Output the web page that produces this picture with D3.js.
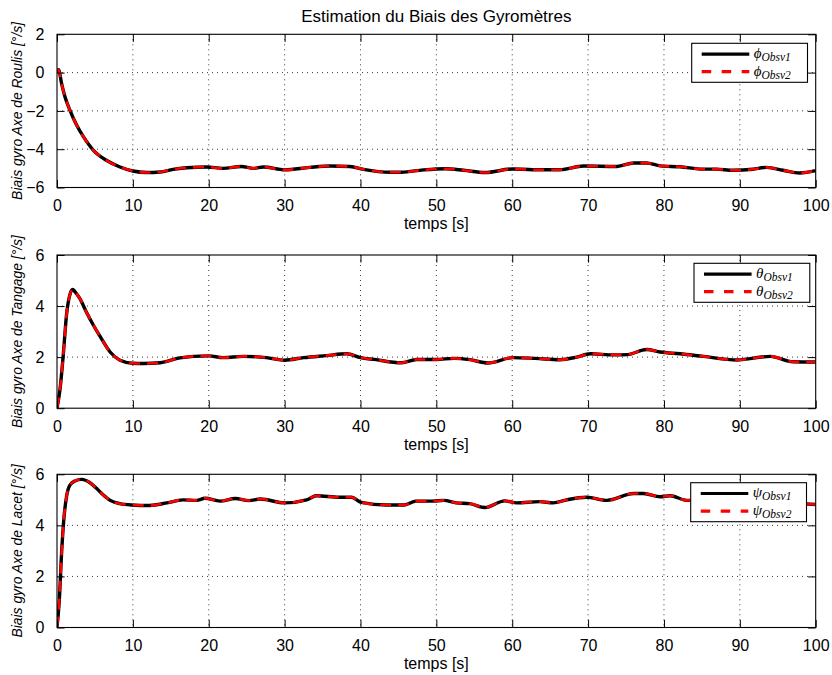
<!DOCTYPE html>
<html><head><meta charset="utf-8">
<script src="https://cdn.jsdelivr.net/npm/d3@7"></script>
<style>body{margin:0;background:#fff;}svg{display:block;}</style>
</head><body>
<script>
const chartTitle = "Estimation du Biais des Gyromètres";
const xLabel = "temps [s]";
const xTicks = [0, 10, 20, 30, 40, 50, 60, 70, 80, 90, 100];

// Roll (Roulis)
const rollTime = [0, 0.2, 0.6, 1.05, 1.7, 2.6, 3.5, 4.8, 6.5, 8.3, 10, 11.8, 13.6, 15.3, 17.1, 19.7, 21.9, 24.3, 25.9, 27.2, 30, 33.3, 36, 38.6, 40.4, 43.9, 45.4, 48.3, 51.2, 53.6, 56.4, 60.1, 62.7, 66.3, 69.4, 73.8, 76, 77.7, 79.5, 82.1, 85.2, 86.9, 89.1, 91.7, 93.5, 95.7, 97.9, 100];
const rollObsv1 = [0, 0.15, -0.56, -1.26, -1.96, -2.75, -3.36, -4.06, -4.58, -4.93, -5.14, -5.22, -5.19, -5.05, -4.97, -4.93, -5.0, -4.9, -5.0, -4.93, -5.08, -4.95, -4.88, -4.9, -5.05, -5.2, -5.2, -5.08, -5.02, -5.1, -5.22, -5.03, -5.07, -5.07, -4.88, -4.9, -4.72, -4.72, -4.87, -4.92, -5.04, -5.04, -5.1, -5.05, -4.95, -5.1, -5.24, -5.12];
const rollObsv2 = [0, 0.15, -0.56, -1.26, -1.96, -2.75, -3.36, -4.06, -4.58, -4.93, -5.14, -5.22, -5.19, -5.05, -4.97, -4.93, -5.0, -4.9, -5.0, -4.93, -5.08, -4.95, -4.88, -4.9, -5.05, -5.2, -5.2, -5.08, -5.02, -5.1, -5.22, -5.03, -5.07, -5.07, -4.88, -4.9, -4.72, -4.72, -4.87, -4.92, -5.04, -5.04, -5.1, -5.05, -4.95, -5.1, -5.24, -5.12];

// Pitch (Tangage)
const pitchTime = [0, 0.4, 0.83, 1.27, 1.7, 2.05, 2.4, 3.0, 3.9, 4.8, 5.7, 7.0, 8.3, 10, 11.4, 13.6, 16.2, 18, 20, 21.9, 24.6, 27.6, 30, 32.5, 35.5, 38.2, 40, 41.8, 45.4, 47.4, 50, 52.3, 54.4, 56.8, 60.1, 63, 66.3, 68.5, 70.3, 73.4, 75.2, 77.7, 79.5, 82.1, 85.2, 89.6, 94, 97, 100];
const pitchObsv1 = [0, 0.75, 2.1, 3.7, 4.45, 4.65, 4.55, 4.3, 3.75, 3.25, 2.8, 2.2, 1.88, 1.76, 1.75, 1.78, 1.97, 2.03, 2.05, 1.98, 2.03, 1.98, 1.88, 1.98, 2.06, 2.13, 1.98, 1.91, 1.78, 1.91, 1.91, 1.95, 1.9, 1.77, 1.98, 1.95, 1.9, 2.0, 2.13, 2.09, 2.1, 2.3, 2.2, 2.13, 2.03, 1.89, 2.03, 1.82, 1.81];
const pitchObsv2 = [0, 0.75, 2.1, 3.7, 4.45, 4.65, 4.55, 4.3, 3.75, 3.25, 2.8, 2.2, 1.88, 1.76, 1.75, 1.78, 1.97, 2.03, 2.05, 1.98, 2.03, 1.98, 1.88, 1.98, 2.06, 2.13, 1.98, 1.91, 1.78, 1.91, 1.91, 1.95, 1.9, 1.77, 1.98, 1.95, 1.9, 2.0, 2.13, 2.09, 2.1, 2.3, 2.2, 2.13, 2.03, 1.89, 2.03, 1.82, 1.81];

// Yaw (Lacet)
const yawTime = [0, 0.3, 0.62, 0.92, 1.27, 1.7, 2.37, 3.25, 4.35, 5.2, 6.0, 7.0, 8.3, 9.8, 12.2, 14.5, 16.6, 18.4, 19.5, 21.5, 23.5, 25.3, 26.8, 30, 32.9, 34.2, 37.2, 38.8, 40.1, 43.4, 45.8, 47.3, 49.5, 51, 52.6, 54.4, 56.4, 59, 60.6, 63.6, 65.4, 67.2, 69.8, 72.5, 76, 77.3, 79.5, 80.8, 83, 86, 89, 92, 95, 98, 100];
const yawObsv1 = [0, 1.05, 3.0, 4.3, 5.15, 5.58, 5.74, 5.8, 5.67, 5.45, 5.22, 4.98, 4.85, 4.8, 4.78, 4.88, 5.0, 4.98, 5.06, 4.95, 5.05, 4.97, 5.03, 4.88, 5.0, 5.16, 5.1, 5.1, 4.9, 4.8, 4.8, 4.95, 4.95, 4.98, 4.88, 4.85, 4.7, 4.96, 4.88, 4.93, 4.88, 5.0, 5.1, 4.98, 5.25, 5.25, 5.12, 5.16, 4.98, 5.0, 4.95, 5.0, 4.9, 4.85, 4.82];
const yawObsv2 = [0, 1.05, 3.0, 4.3, 5.15, 5.58, 5.74, 5.8, 5.67, 5.45, 5.22, 4.98, 4.85, 4.8, 4.78, 4.88, 5.0, 4.98, 5.06, 4.95, 5.05, 4.97, 5.03, 4.88, 5.0, 5.16, 5.1, 5.1, 4.9, 4.8, 4.8, 4.95, 4.95, 4.98, 4.88, 4.85, 4.7, 4.96, 4.88, 4.93, 4.88, 5.0, 5.1, 4.98, 5.25, 5.25, 5.12, 5.16, 4.98, 5.0, 4.95, 5.0, 4.9, 4.85, 4.82];

const rollTicks = [-6, -4, -2, 0, 2];
const pitchTicks = [0, 2, 4, 6];
const yawTicks = [0, 2, 4, 6];
const seriesSubs = ["Obsv1", "Obsv2"];

const W = 832, H = 675;
const L = 57, R = 815.7, PH = 153.2;
const font = "'Liberation Sans', Arial, Helvetica, sans-serif";
const serif = "'Liberation Serif', 'Times New Roman', serif";
const fs = 16;

const panels = [
  {time: rollTime, s1: rollObsv1, s2: rollObsv2, domain: [-6, 2], ticks: rollTicks,
   ylabel: "Biais gyro Axe de Roulis [°/s]", sym: "ϕ", top: 34.3, lx: 691.7, ly: 43.3},
  {time: pitchTime, s1: pitchObsv1, s2: pitchObsv2, domain: [0, 6], ticks: pitchTicks,
   ylabel: "Biais gyro Axe de Tangage [°/s]", sym: "θ", top: 255, lx: 694, ly: 263.3},
  {time: yawTime, s1: yawObsv1, s2: yawObsv2, domain: [0, 6], ticks: yawTicks,
   ylabel: "Biais gyro Axe de Lacet [°/s]", sym: "ψ", top: 474.3, lx: 690.7, ly: 482.7}
];

const svg = d3.select("body").append("svg").attr("width", W).attr("height", H);
svg.append("rect").attr("width", W).attr("height", H).attr("fill", "#fff");

svg.append("text").attr("x", (L + R) / 2).attr("y", 22).attr("text-anchor", "middle")
  .attr("font-family", font).attr("font-size", 17).text(chartTitle);

const x = d3.scaleLinear().domain([0, 100]).range([L, R]);
const fmt = v => (v < 0 ? "\u2212" : "") + Math.abs(v);

panels.forEach((p, pi) => {
  const top = p.top, bot = top + PH;
  const y = d3.scaleLinear().domain(p.domain).range([bot, top]);
  const g = svg.append("g");
  const clipId = "clip" + pi;
  svg.append("clipPath").attr("id", clipId).append("rect")
    .attr("x", L).attr("y", top).attr("width", R - L).attr("height", PH);

  // grid
  g.selectAll(".gx").data(xTicks.slice(1, -1)).join("line")
    .attr("x1", d => x(d)).attr("x2", d => x(d)).attr("y1", top).attr("y2", bot)
    .attr("stroke", "#222").attr("stroke-width", 0.9).attr("stroke-dasharray", "1,4");
  g.selectAll(".gy").data(p.ticks.slice(1, -1)).join("line")
    .attr("x1", L).attr("x2", R).attr("y1", d => y(d)).attr("y2", d => y(d))
    .attr("stroke", "#222").attr("stroke-width", 0.9).attr("stroke-dasharray", "1,4");

  // lines
  const idx = d3.range(p.time.length);
  const line1 = d3.line().x(i => x(p.time[i])).y(i => y(p.s1[i])).curve(d3.curveMonotoneX);
  const line2 = d3.line().x(i => x(p.time[i])).y(i => y(p.s2[i])).curve(d3.curveMonotoneX);
  const lg = g.append("g").attr("clip-path", `url(#${clipId})`);
  lg.append("path").attr("d", line1(idx)).attr("fill", "none").attr("stroke", "#000")
    .attr("stroke-width", 3.4).attr("stroke-linejoin", "round");
  lg.append("path").attr("d", line2(idx)).attr("fill", "none").attr("stroke", "#ff0000")
    .attr("stroke-width", 2.6).attr("stroke-dasharray", "11,7");

  // axes box
  g.append("rect").attr("x", L).attr("y", top).attr("width", R - L).attr("height", PH)
    .attr("fill", "none").attr("stroke", "#000").attr("stroke-width", 1.1);

  const tl = 7.6;
  const xb = d3.axisBottom(x).tickValues(xTicks).tickSizeInner(-tl).tickSizeOuter(0)
    .tickPadding(tl + 4.5).tickFormat(d3.format("d"));
  const ax = g.append("g").attr("transform", `translate(0,${bot})`).call(xb);
  ax.select(".domain").remove();
  ax.selectAll("text").attr("font-family", font).attr("font-size", fs).attr("fill", "#000");
  ax.selectAll("line").attr("stroke", "#000");
  const xt = d3.axisTop(x).tickValues(xTicks).tickSizeInner(-tl).tickSizeOuter(0).tickFormat("");
  const axt = g.append("g").attr("transform", `translate(0,${top})`).call(xt);
  axt.select(".domain").remove();
  axt.selectAll("line").attr("stroke", "#000");

  const yl = d3.axisLeft(y).tickValues(p.ticks).tickSizeInner(-tl).tickSizeOuter(0)
    .tickPadding(tl + 5).tickFormat(fmt);
  const ay = g.append("g").attr("transform", `translate(${L},0)`).call(yl);
  ay.select(".domain").remove();
  ay.selectAll("text").attr("font-family", font).attr("font-size", fs).attr("fill", "#000");
  ay.selectAll("line").attr("stroke", "#000");
  const yr = d3.axisRight(y).tickValues(p.ticks).tickSizeInner(-tl).tickSizeOuter(0).tickFormat("");
  const ayr = g.append("g").attr("transform", `translate(${R},0)`).call(yr);
  ayr.select(".domain").remove();
  ayr.selectAll("line").attr("stroke", "#000");

  g.append("text").attr("x", (L + R) / 2).attr("y", bot + 41.5).attr("text-anchor", "middle")
    .attr("font-family", font).attr("font-size", fs).text(xLabel);

  g.append("text").attr("transform", `translate(22,${(top + bot) / 2}) rotate(-90)`)
    .attr("text-anchor", "middle").attr("font-family", font).attr("font-style", "italic")
    .attr("font-size", 13.9).text(p.ylabel);

  // legend
  const lw = 115.8, lh = 39;
  const leg = g.append("g").attr("transform", `translate(${p.lx},${p.ly})`);
  leg.append("rect").attr("width", lw).attr("height", lh).attr("fill", "#fff")
    .attr("stroke", "#000").attr("stroke-width", 1.1);
  const rows = [{c: "#000", dash: null, w: 3.2, yy: 10.8}, {c: "#ff0000", dash: "9.5,10.5", w: 3.2, yy: 28.4}];
  rows.forEach((r, k) => {
    leg.append("line").attr("x1", 10).attr("x2", 57.6).attr("y1", r.yy).attr("y2", r.yy)
      .attr("stroke", r.c).attr("stroke-width", r.w).attr("stroke-dasharray", r.dash);
    const t = leg.append("text").attr("x", 62).attr("y", r.yy + 4)
      .attr("font-family", serif).attr("font-style", "italic").attr("font-size", 15).attr("fill", "#000");
    t.append("tspan").text(p.sym);
    t.append("tspan").attr("font-size", 11.5).attr("dy", 3).text(seriesSubs[k]);
  });
});
</script>
</body></html>
